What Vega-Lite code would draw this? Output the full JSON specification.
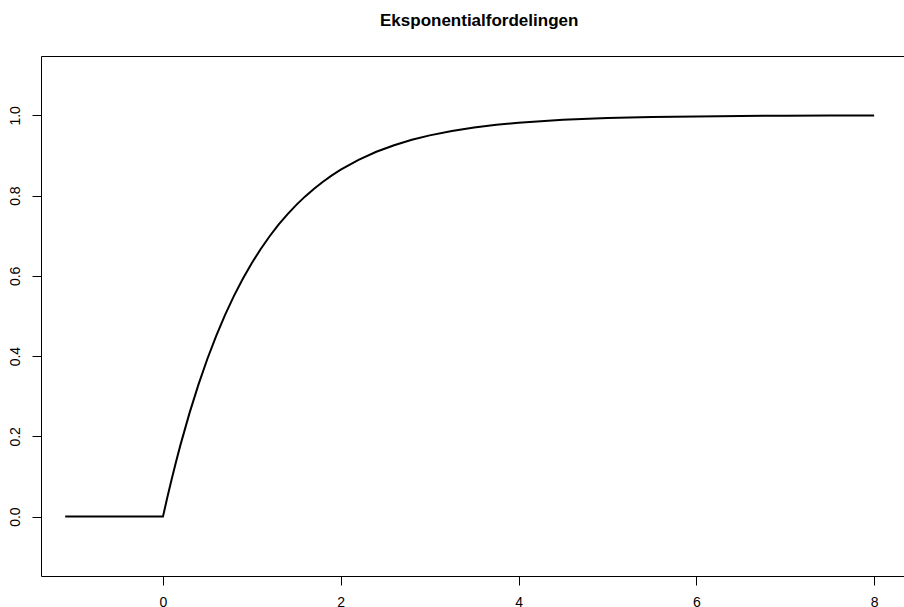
{
  "$schema": "https://vega.github.io/schema/vega-lite/v6.json",
  "autosize": "none",
  "width": 863,
  "height": 520,
  "padding": {"left": 41, "top": 56, "right": 0, "bottom": 31},
  "background": "white",
  "title": {
    "text": "Eksponentialfordelingen",
    "font": "Liberation Sans",
    "fontSize": 17,
    "fontWeight": "bold",
    "color": "black",
    "anchor": "start",
    "dx": 372,
    "baseline": "alphabetic",
    "offset": 13
  },
  "config": {
    "view": {"stroke": null},
    "axis": {
      "grid": false,
      "domain": true,
      "domainColor": "black",
      "domainWidth": 1,
      "tickColor": "black",
      "tickSize": 9,
      "labelFont": "Liberation Sans",
      "labelFontSize": 14,
      "labelColor": "black",
      "title": null
    }
  },
  "data": {
    "values": [
      {"x": -1.1, "F": 0},
      {"x": 0, "F": 0},
      {"x": 0.05, "F": 0.0488},
      {"x": 0.1, "F": 0.0952},
      {"x": 0.15, "F": 0.1393},
      {"x": 0.2, "F": 0.1813},
      {"x": 0.3, "F": 0.2592},
      {"x": 0.4, "F": 0.3297},
      {"x": 0.5, "F": 0.3935},
      {"x": 0.6, "F": 0.4512},
      {"x": 0.7, "F": 0.5034},
      {"x": 0.8, "F": 0.5507},
      {"x": 0.9, "F": 0.5934},
      {"x": 1.0, "F": 0.6321},
      {"x": 1.1, "F": 0.6671},
      {"x": 1.2, "F": 0.6988},
      {"x": 1.3, "F": 0.7275},
      {"x": 1.4, "F": 0.7534},
      {"x": 1.5, "F": 0.7769},
      {"x": 1.6, "F": 0.7981},
      {"x": 1.7, "F": 0.8173},
      {"x": 1.8, "F": 0.8347},
      {"x": 1.9, "F": 0.8504},
      {"x": 2.0, "F": 0.8647},
      {"x": 2.2, "F": 0.8892},
      {"x": 2.4, "F": 0.9093},
      {"x": 2.6, "F": 0.9257},
      {"x": 2.8, "F": 0.9392},
      {"x": 3.0, "F": 0.9502},
      {"x": 3.25, "F": 0.9612},
      {"x": 3.5, "F": 0.9698},
      {"x": 3.75, "F": 0.9765},
      {"x": 4.0, "F": 0.9817},
      {"x": 4.5, "F": 0.9889},
      {"x": 5.0, "F": 0.9933},
      {"x": 5.5, "F": 0.9959},
      {"x": 6.0, "F": 0.9975},
      {"x": 6.5, "F": 0.9985},
      {"x": 7.0, "F": 0.9991},
      {"x": 7.5, "F": 0.9994},
      {"x": 8.0, "F": 0.9997}
    ]
  },
  "layer": [
    {
      "mark": {"type": "line", "color": "black", "strokeWidth": 2, "interpolate": "linear"},
      "encoding": {
        "x": {
          "field": "x",
          "type": "quantitative",
          "scale": {"domain": [-1.372, 8.336], "nice": false, "zero": false},
          "axis": {"orient": "bottom", "values": [0, 2, 4, 6, 8], "format": "d", "labelPadding": 10, "labelBaseline": "top"}
        },
        "y": {
          "field": "F",
          "type": "quantitative",
          "scale": {"domain": [-0.148, 1.148], "nice": false, "zero": false},
          "axis": {"values": [0, 0.2, 0.4, 0.6, 0.8, 1.0], "format": ".1f", "labelAngle": 270, "labelAlign": "center", "labelBaseline": "bottom", "labelPadding": 10}
        }
      }
    },
    {
      "mark": {"type": "line", "opacity": 0},
      "encoding": {
        "x": {
          "field": "x",
          "type": "quantitative",
          "axis": {"orient": "top", "labels": false, "ticks": false}
        },
        "y": {"field": "F", "type": "quantitative"}
      }
    }
  ],
  "resolve": {"axis": {"x": "independent"}}
}
